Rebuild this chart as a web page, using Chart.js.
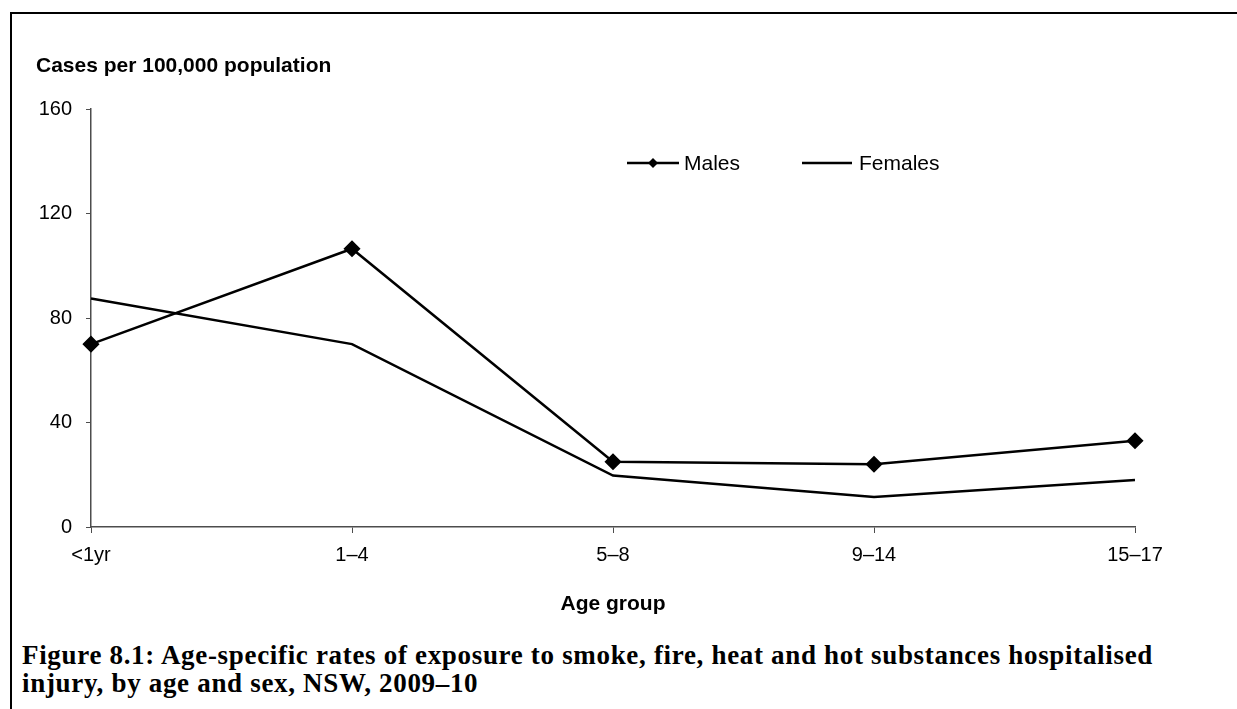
<!DOCTYPE html>
<html>
<head>
<meta charset="utf-8">
<title>Figure 8.1</title>
<script src="https://cdn.jsdelivr.net/npm/chart.js@4.4.1/dist/chart.umd.min.js"></script>
<style>
    html, body { margin: 0; padding: 0; background: #fff; overflow: hidden; }
    body { width: 1237px; height: 709px; position: relative; }
    #frame {
        position: absolute; left: 10px; top: 12px; width: 1400px; height: 900px;
        border-left: 2px solid #000; border-top: 2px solid #000;
    }
    #chart-wrap { position: absolute; left: 0; top: 0; width: 1237px; height: 640px; }
    #caption {
        position: absolute; left: 22px; top: 641px;
        font-family: "Liberation Serif", "Times New Roman", serif;
        font-weight: bold; font-size: 27px; line-height: 28px; color: #000;
    }
    #caption span { display: inline-block; white-space: nowrap; }
</style>
</head>
<body>
<div id="frame"></div>
<div id="chart-wrap"><canvas id="age-chart" width="1237" height="640"></canvas></div>
<div id="caption">
    <span id="cap1">Figure 8.1: Age-specific rates of exposure to smoke, fire, heat and hot substances hospitalised</span><br>
    <span id="cap2">injury, by age and sex, NSW, 2009–10</span>
</div>
<script>
// Data
var ageGroups = ['<1yr', '1–4', '5–8', '9–14', '15–17'];
var males = [70, 106.5, 25, 24, 33];
var females = [87.5, 70, 19.7, 11.5, 18];
var yTicks = [0, 40, 80, 120, 160];
var yTitle = 'Cases per 100,000 population';
var xTitle = 'Age group';

document.addEventListener('DOMContentLoaded', function () {
    // caption line 1 should span ~1131px (original is a wider serif)
    var caption = document.getElementById('caption');
    var cap1 = document.getElementById('cap1');
    var cap2 = document.getElementById('cap2');
    var fs = 27;
    caption.style.top = (664 - (14 + 0.3375 * fs)) + 'px';
    var w = cap1.getBoundingClientRect().width;
    var ls = Math.max(0, (1131 - w) / cap1.textContent.length);
    cap1.style.letterSpacing = ls + 'px';
    cap2.style.letterSpacing = ls + 'px';

    Chart.defaults.font.family = '"Liberation Sans", Arial, sans-serif';
    Chart.defaults.color = '#000';

    // axis title on top + legend inside the plot
    var extras = {
        id: 'extras',
        afterDraw: function (chart) {
            var ctx = chart.ctx;
            ctx.save();
            ctx.fillStyle = '#000';
            ctx.font = 'bold 21px "Liberation Sans", Arial, sans-serif';
            ctx.textBaseline = 'alphabetic';
            ctx.textAlign = 'left';
            ctx.fillText(yTitle, 36, 72);

            var items = [
                { ds: chart.data.datasets[0], x0: 627, x1: 679, tx: 684 },
                { ds: chart.data.datasets[1], x0: 802, x1: 852, tx: 859 }
            ];
            var ly = 163;
            ctx.font = '21px "Liberation Sans", Arial, sans-serif';
            items.forEach(function (it) {
                ctx.strokeStyle = it.ds.borderColor;
                ctx.lineWidth = 2.5;
                ctx.beginPath();
                ctx.moveTo(it.x0, ly);
                ctx.lineTo(it.x1, ly);
                ctx.stroke();
                if (it.ds.pointRadius > 0) {
                    var cx = (it.x0 + it.x1) / 2, r = 5;
                    ctx.beginPath();
                    ctx.moveTo(cx - r, ly);
                    ctx.lineTo(cx, ly - r);
                    ctx.lineTo(cx + r, ly);
                    ctx.lineTo(cx, ly + r);
                    ctx.closePath();
                    ctx.fillStyle = '#000';
                    ctx.fill();
                }
                ctx.fillStyle = '#000';
                ctx.fillText(it.ds.label, it.tx, 170);
            });
            ctx.restore();
        }
    };

    var ctx = document.getElementById('age-chart').getContext('2d');
    new Chart(ctx, {
        type: 'line',
        data: {
            labels: ageGroups,
            datasets: [
                {
                    label: 'Males',
                    data: males,
                    borderColor: '#000',
                    backgroundColor: '#000',
                    borderWidth: 2.5,
                    pointStyle: 'rectRot',
                    pointRadius: 7.5,
                    pointBorderWidth: 1.5,
                    pointBackgroundColor: '#000',
                    pointBorderColor: '#000',
                    tension: 0,
                    fill: false
                },
                {
                    label: 'Females',
                    data: females,
                    borderColor: '#000',
                    backgroundColor: '#000',
                    borderWidth: 2.5,
                    pointRadius: 0,
                    tension: 0,
                    fill: false
                }
            ]
        },
        options: {
            responsive: false,
            animation: false,
            layout: { padding: { left: 11, right: 102, top: 109, bottom: 0 } },
            plugins: {
                legend: { display: false },
                tooltip: { enabled: false }
            },
            scales: {
                x: {
                    offset: false,
                    afterFit: function (scale) { scale.height = 113; },
                    grid: {
                        drawOnChartArea: false,
                        drawTicks: true,
                        tickLength: 6,
                        color: '#4d4d4d',
                        lineWidth: 1
                    },
                    border: { display: true, color: '#4d4d4d', width: 1.5 },
                    ticks: {
                        padding: 10,
                        maxRotation: 0,
                        autoSkip: false,
                        font: { size: 20 },
                        color: '#000'
                    },
                    title: {
                        display: true,
                        text: xTitle,
                        font: { size: 21, weight: 'bold' },
                        color: '#000',
                        padding: { top: 0, bottom: 23 }
                    }
                },
                y: {
                    min: 0,
                    max: 160,
                    afterFit: function (scale) { scale.width = 80; },
                    afterBuildTicks: function (scale) {
                        scale.ticks = yTicks.map(function (v) { return { value: v }; });
                    },
                    grid: {
                        drawOnChartArea: false,
                        drawTicks: true,
                        tickLength: 5,
                        color: '#4d4d4d',
                        lineWidth: 1
                    },
                    border: { display: true, color: '#4d4d4d', width: 1.5 },
                    ticks: {
                        padding: 14,
                        font: { size: 20 },
                        color: '#000'
                    }
                }
            }
        },
        plugins: [extras]
    });
});
</script>
</body>
</html>
